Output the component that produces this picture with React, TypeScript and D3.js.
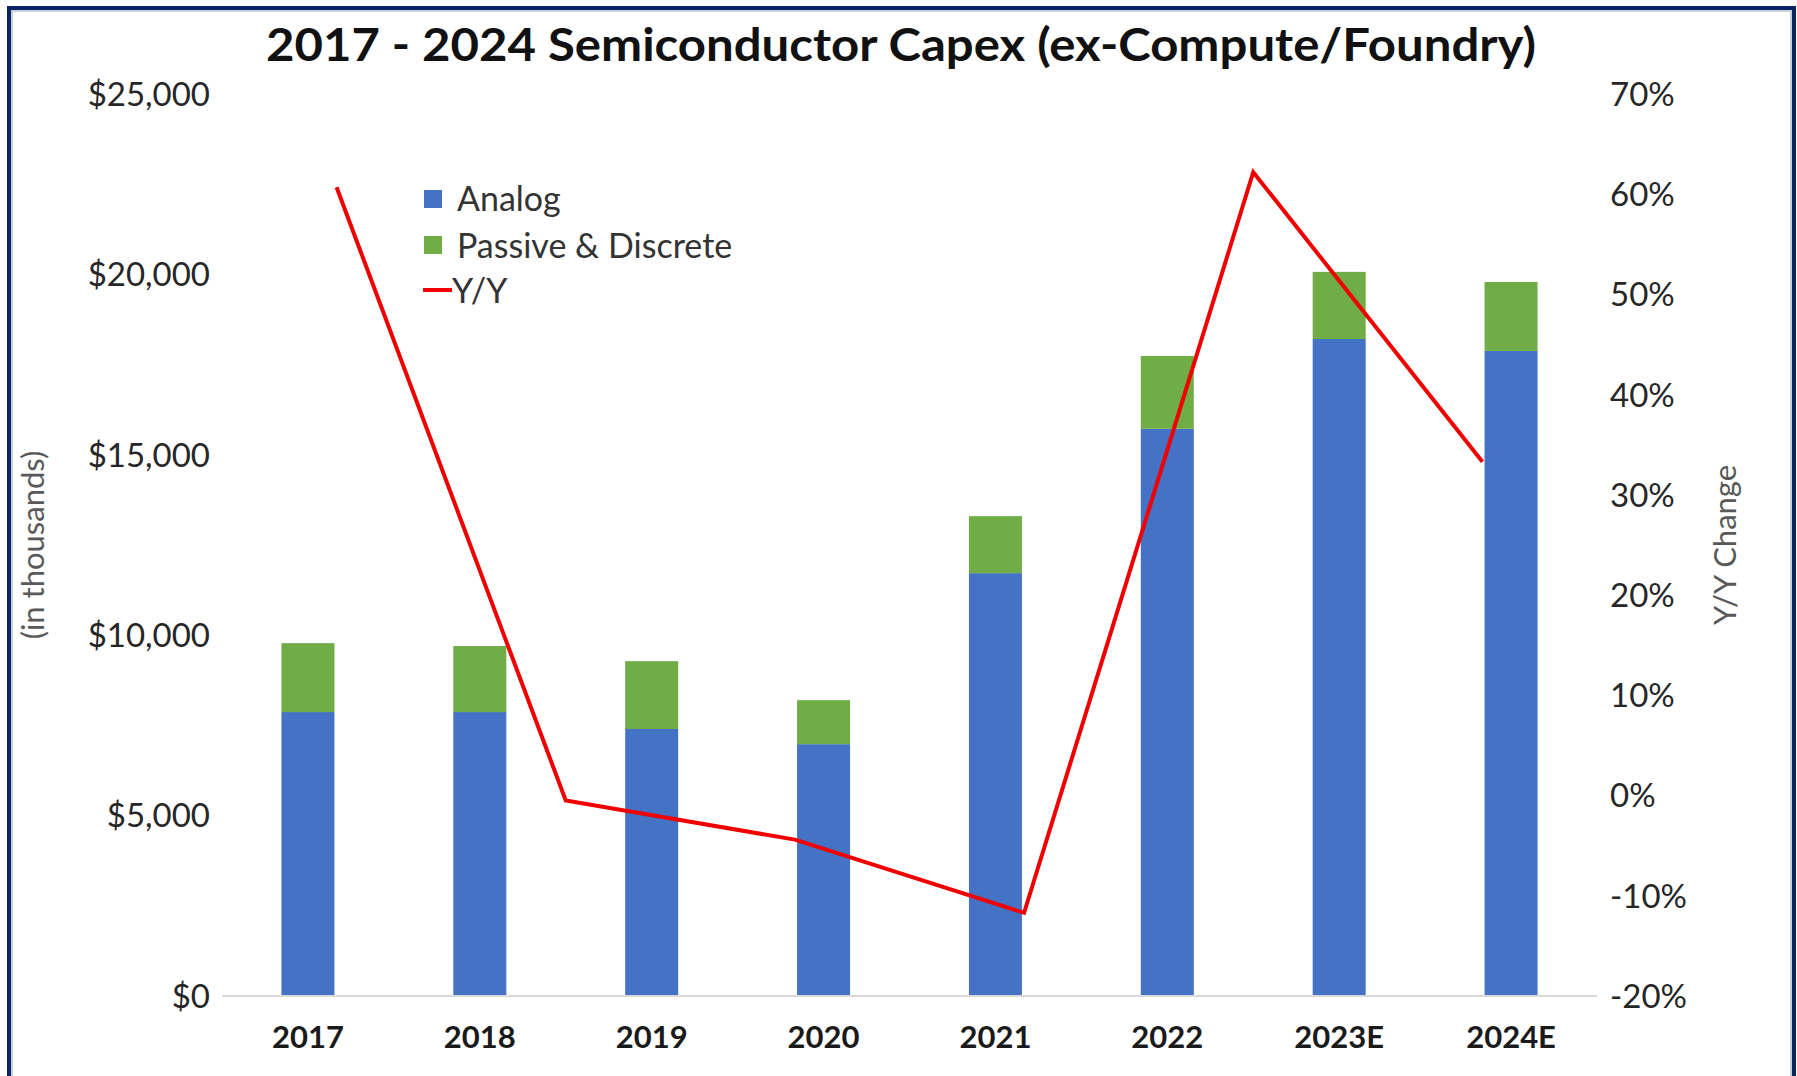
import React from 'react';
import * as d3 from 'd3';

const categories = ['2017', '2018', '2019', '2020', '2021', '2022', '2023E', '2024E'];
const analog = [7870, 7870, 7400, 6980, 11720, 15720, 18210, 17880];
const passive = [1910, 1830, 1880, 1220, 1580, 2020, 1860, 1910];
const yoy = [60.7, -0.5, -4.4, -11.7, 62.2, 33.3];
const leftTicks = [0, 5000, 10000, 15000, 20000, 25000];
const rightTicks = [-20, -10, 0, 10, 20, 30, 40, 50, 60, 70];
const seriesNames = ['Analog', 'Passive & Discrete', 'Y/Y'];
const title = '2017 - 2024 Semiconductor Capex (ex-Compute/Foundry)';
const leftAxisTitle = '(in thousands)';
const rightAxisTitle = 'Y/Y Change';

const W = 1797;
const H = 1076;
const FONT = 'Lato, "Open Sans", sans-serif';

export default function App() {
  const plotLeft = 222;
  const plotRight = 1597;
  const plotTop = 94;
  const plotBottom = 996;

  const x = d3.scaleBand<string>().domain(categories).range([plotLeft, plotRight])
    .paddingInner(0.6916).paddingOuter(0.3458);
  const xLine = d3.scalePoint<number>().domain(d3.range(yoy.length)).range([plotLeft, plotRight]).padding(0.5);
  const yL = d3.scaleLinear().domain([0, 25000]).range([plotBottom, plotTop]);
  const yR = d3.scaleLinear().domain([-20, 70]).range([plotBottom, plotTop]);

  const rows = categories.map((c, i) => ({ cat: c, analog: analog[i], passive: passive[i] }));
  const stack = d3.stack<any>().keys(['analog', 'passive']);
  const stacked = stack(rows);
  const colors = ['#4472C4', '#70AD47'];

  const line = d3.line<number>().x((_, i) => xLine(i) as number).y((d) => yR(d));
  const fmtL = (v: number) => '$' + d3.format(',')(v);

  return (
    <div style={{ position: 'absolute', left: 0, top: 0 }}>
      <svg width={W} height={H} style={{ display: 'block', fontFamily: FONT }}>
        <rect x={0} y={0} width={W} height={H} fill="#ffffff" />
        {/* frame */}
        <rect x={9} y={8} width={1785} height={1200} fill="#ffffff" stroke="#0B2466" strokeWidth={4} />
        <rect x={12} y={11} width={1779} height={1200} fill="none" stroke="#C9CFDA" strokeWidth={2} />

        {/* title */}
        <text x={901} y={61} textAnchor="middle" fontSize={46} fontWeight={700} fill="#111"
          textLength={1270} lengthAdjust="spacingAndGlyphs">{title}</text>

        {/* left ticks */}
        {leftTicks.map((t) => (
          <text key={'l' + t} x={210} y={yL(t)} dy="0.36em" textAnchor="end" fontSize={33} fill="#262626">
            {fmtL(t)}
          </text>
        ))}
        {/* right ticks */}
        {rightTicks.map((t) => (
          <text key={'r' + t} x={1610} y={yR(t)} dy="0.36em" textAnchor="start" fontSize={33} fill="#262626">
            {t + '%'}
          </text>
        ))}

        {/* axis titles */}
        <text transform={`translate(44,${(plotTop + plotBottom) / 2}) rotate(-90)`} textAnchor="middle"
          fontSize={31} fill="#595959">{leftAxisTitle}</text>
        <text transform={`translate(1736,${(plotTop + plotBottom) / 2}) rotate(-90)`} textAnchor="middle"
          fontSize={31} fill="#595959">{rightAxisTitle}</text>

        {/* bars */}
        {stacked.map((s, si) => (
          <g key={s.key} fill={colors[si]}>
            {s.map((d, i) => (
              <rect key={i} x={x(categories[i])} y={yL(d[1])} width={x.bandwidth()}
                height={yL(d[0]) - yL(d[1])} />
            ))}
          </g>
        ))}

        {/* baseline */}
        <line x1={plotLeft} x2={plotRight} y1={plotBottom} y2={plotBottom} stroke="#D9D9D9" strokeWidth={2} />

        {/* x labels */}
        {categories.map((c) => (
          <text key={c} x={(x(c) as number) + x.bandwidth() / 2} y={1037} dy="0.36em" textAnchor="middle"
            fontSize={31} fontWeight={700} fill="#1a1a1a">{c}</text>
        ))}

        {/* yoy line */}
        <path d={line(yoy) as string} fill="none" stroke="#F00000" strokeWidth={4} strokeLinejoin="miter" />

        {/* legend */}
        <rect x={424} y={190} width={18} height={18} fill={colors[0]} />
        <text x={457} y={211} fontSize={34} fill="#333">{seriesNames[0]}</text>
        <rect x={424} y={236} width={18} height={18} fill={colors[1]} />
        <text x={457} y={258} fontSize={34} fill="#333">{seriesNames[1]}</text>
        <line x1={423} x2={452} y1={290} y2={290} stroke="#F00000" strokeWidth={4} />
        <text x={452} y={303} fontSize={34} fill="#333">{seriesNames[2]}</text>
      </svg>
    </div>
  );
}
